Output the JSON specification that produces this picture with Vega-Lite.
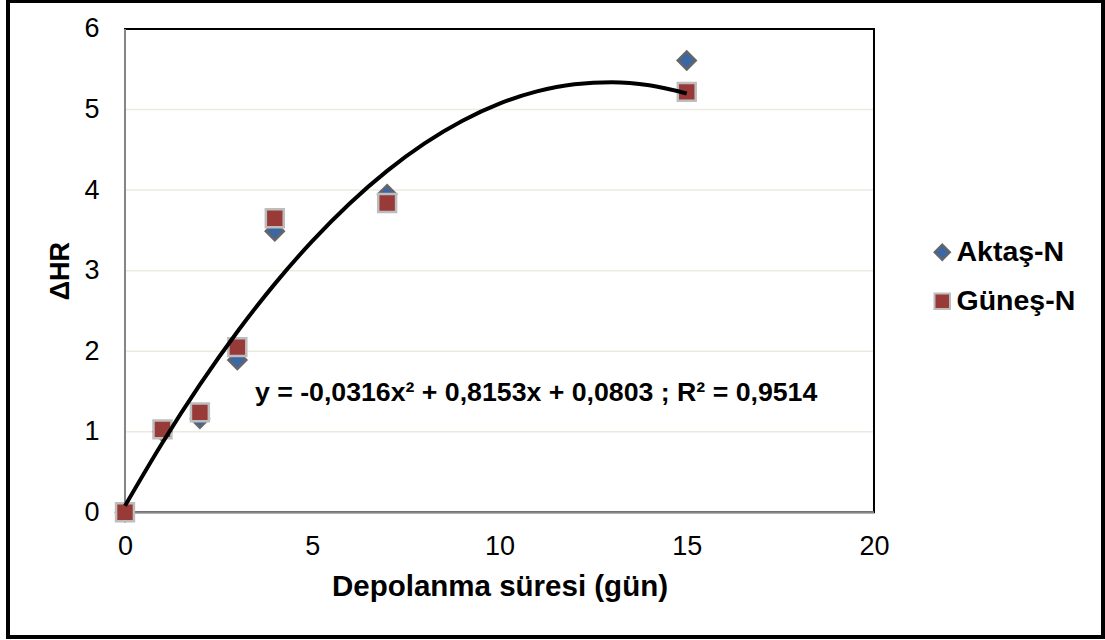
{
  "$schema": "https://vega.github.io/schema/vega-lite/v6.json",
  "width": 1095,
  "height": 636,
  "autosize": {"type": "none"},
  "padding": {"left": 8, "top": 1, "right": 2, "bottom": 3},
  "background": "white",
  "config": {
    "view": {"stroke": "black", "strokeWidth": 4},
    "font": "Liberation Sans",
    "axis": {
      "grid": false, "domain": false, "ticks": false,
      "labelFont": "Liberation Sans", "labelFontSize": 27, "labelColor": "black",
      "titleFont": "Liberation Sans", "titleFontWeight": "bold", "titleColor": "black"
    },
    "axisX": {"offset": -124.7, "labelPadding": 21, "titlePadding": 13, "titleFontSize": 29.5, "titleX": 491.5, "titleAlign": "center"},
    "axisY": {"offset": -117, "labelPadding": 26, "titlePadding": 9, "titleFontSize": 27, "titleY": 269.6, "titleAlign": "center"}
  },
  "datasets": {
    "points": [
      {"series": "Aktaş-N", "day": 0, "dhr": 0},
      {"series": "Aktaş-N", "day": 1, "dhr": 1.0},
      {"series": "Aktaş-N", "day": 2, "dhr": 1.16},
      {"series": "Aktaş-N", "day": 3, "dhr": 1.89},
      {"series": "Aktaş-N", "day": 4, "dhr": 3.49},
      {"series": "Aktaş-N", "day": 7, "dhr": 3.95},
      {"series": "Aktaş-N", "day": 15, "dhr": 5.61},
      {"series": "Güneş-N", "day": 0, "dhr": 0},
      {"series": "Güneş-N", "day": 1, "dhr": 1.03},
      {"series": "Güneş-N", "day": 2, "dhr": 1.24},
      {"series": "Güneş-N", "day": 3, "dhr": 2.05},
      {"series": "Güneş-N", "day": 4, "dhr": 3.65},
      {"series": "Güneş-N", "day": 7, "dhr": 3.84},
      {"series": "Güneş-N", "day": 15, "dhr": 5.22}
    ],
    "curve": [
      {"day": 0, "fit": 0.0803},
      {"day": 1, "fit": 0.864},
      {"day": 2, "fit": 1.5845},
      {"day": 3, "fit": 2.2418},
      {"day": 4, "fit": 2.8359},
      {"day": 5, "fit": 3.3668},
      {"day": 6, "fit": 3.8345},
      {"day": 7, "fit": 4.239},
      {"day": 8, "fit": 4.5803},
      {"day": 9, "fit": 4.8584},
      {"day": 10, "fit": 5.0733},
      {"day": 11, "fit": 5.225},
      {"day": 12, "fit": 5.3135},
      {"day": 13, "fit": 5.3388},
      {"day": 14, "fit": 5.3009},
      {"day": 15, "fit": 5.1998}
    ],
    "grid": [{"v": 1}, {"v": 2}, {"v": 3}, {"v": 4}, {"v": 5}]
  },
  "layer": [
    {
      "data": {"name": "grid"},
      "mark": {"type": "rule", "color": "#ECE9DF", "strokeWidth": 1.5},
      "encoding": {
        "y": {"field": "v", "type": "quantitative", "scale": {"domain": [-1.548, 6.3476], "nice": false, "zero": false}, "axis": {"title": "ΔHR", "values": [0, 1, 2, 3, 4, 5, 6]}},
        "x": {"datum": 0, "type": "quantitative", "scale": {"domain": [-3.124, 26.115], "nice": false, "zero": false}, "axis": {"title": "Depolanma süresi (gün)", "values": [0, 5, 10, 15, 20]}},
        "x2": {"datum": 20}
      }
    },
    {
      "data": {"values": [{}]},
      "mark": {"type": "rect", "fillOpacity": 0, "stroke": "black", "strokeWidth": 2},
      "encoding": {
        "x": {"datum": 0, "type": "quantitative", "axis": {"title": "Depolanma süresi (gün)", "values": [0, 5, 10, 15, 20]}},
        "x2": {"datum": 20},
        "y": {"datum": 0, "type": "quantitative", "axis": {"title": "ΔHR", "values": [0, 1, 2, 3, 4, 5, 6]}},
        "y2": {"datum": 6}
      }
    },
    {
      "data": {"values": [{}]},
      "mark": {"type": "rule", "color": "#868686", "strokeWidth": 2},
      "encoding": {
        "x": {"datum": 0, "type": "quantitative", "axis": {"title": "Depolanma süresi (gün)", "values": [0, 5, 10, 15, 20]}},
        "y": {"datum": 0, "type": "quantitative", "axis": {"title": "ΔHR", "values": [0, 1, 2, 3, 4, 5, 6]}},
        "y2": {"datum": 6}
      }
    },
    {
      "data": {"values": [{}]},
      "mark": {"type": "rule", "color": "#868686", "strokeWidth": 2},
      "encoding": {
        "x": {"datum": 0, "type": "quantitative", "axis": {"title": "Depolanma süresi (gün)", "values": [0, 5, 10, 15, 20]}},
        "x2": {"datum": 20},
        "y": {"datum": 0, "type": "quantitative", "axis": {"title": "ΔHR", "values": [0, 1, 2, 3, 4, 5, 6]}}
      }
    },
    {
      "data": {"name": "points"},
      "mark": {"type": "point", "filled": true, "opacity": 1, "strokeWidth": 2.5, "size": 320},
      "encoding": {
        "x": {
          "field": "day", "type": "quantitative",
          "scale": {"domain": [-3.124, 26.115], "nice": false, "zero": false},
          "axis": {"title": "Depolanma süresi (gün)", "values": [0, 5, 10, 15, 20]}
        },
        "y": {
          "field": "dhr", "type": "quantitative",
          "scale": {"domain": [-1.548, 6.3476], "nice": false, "zero": false},
          "axis": {"title": "ΔHR", "values": [0, 1, 2, 3, 4, 5, 6]}
        },
        "shape": {
          "field": "series", "type": "nominal",
          "scale": {"domain": ["Aktaş-N", "Güneş-N"], "range": ["diamond", "square"]},
          "legend": {"orient": "none", "legendX": 920, "legendY": 237, "title": null, "labelFont": "Liberation Sans", "labelFontSize": 28.5, "labelFontWeight": "bold", "labelColor": "black", "symbolSize": 240, "symbolStrokeWidth": 2, "symbolOpacity": 1, "labelOffset": 0, "rowPadding": 20}
        },
        "fill": {
          "field": "series", "type": "nominal",
          "scale": {"domain": ["Aktaş-N", "Güneş-N"], "range": ["#3B67A5", "#973A38"]},
          "legend": {"orient": "none", "legendX": 920, "legendY": 237, "title": null, "labelFont": "Liberation Sans", "labelFontSize": 28.5, "labelFontWeight": "bold", "labelColor": "black", "symbolSize": 240, "symbolStrokeWidth": 2, "symbolOpacity": 1, "labelOffset": 0, "rowPadding": 20}
        },
        "stroke": {
          "field": "series", "type": "nominal",
          "scale": {"domain": ["Aktaş-N", "Güneş-N"], "range": ["#666666", "#BDBDBD"]},
          "legend": {"orient": "none", "legendX": 920, "legendY": 237, "title": null, "labelFont": "Liberation Sans", "labelFontSize": 28.5, "labelFontWeight": "bold", "labelColor": "black", "symbolSize": 240, "symbolStrokeWidth": 2, "symbolOpacity": 1, "labelOffset": 0, "rowPadding": 20}
        }
      }
    },
    {
      "data": {"name": "curve"},
      "mark": {"type": "line", "color": "black", "strokeWidth": 4, "interpolate": "monotone"},
      "encoding": {
        "x": {"field": "day", "type": "quantitative", "axis": {"title": "Depolanma süresi (gün)", "values": [0, 5, 10, 15, 20]}},
        "y": {"field": "fit", "type": "quantitative", "axis": {"title": "ΔHR", "values": [0, 1, 2, 3, 4, 5, 6]}}
      }
    },
    {
      "data": {"values": [{}]},
      "mark": {"type": "text", "align": "left", "baseline": "alphabetic", "font": "Liberation Sans", "fontSize": 26.7, "fontWeight": "bold", "color": "black"},
      "encoding": {
        "x": {"datum": 3.47, "type": "quantitative", "axis": {"title": "Depolanma süresi (gün)", "values": [0, 5, 10, 15, 20]}},
        "y": {"datum": 1.378, "type": "quantitative", "axis": {"title": "ΔHR", "values": [0, 1, 2, 3, 4, 5, 6]}},
        "text": {"value": "y = -0,0316x² + 0,8153x + 0,0803 ; R² = 0,9514"}
      }
    }
  ]
}
